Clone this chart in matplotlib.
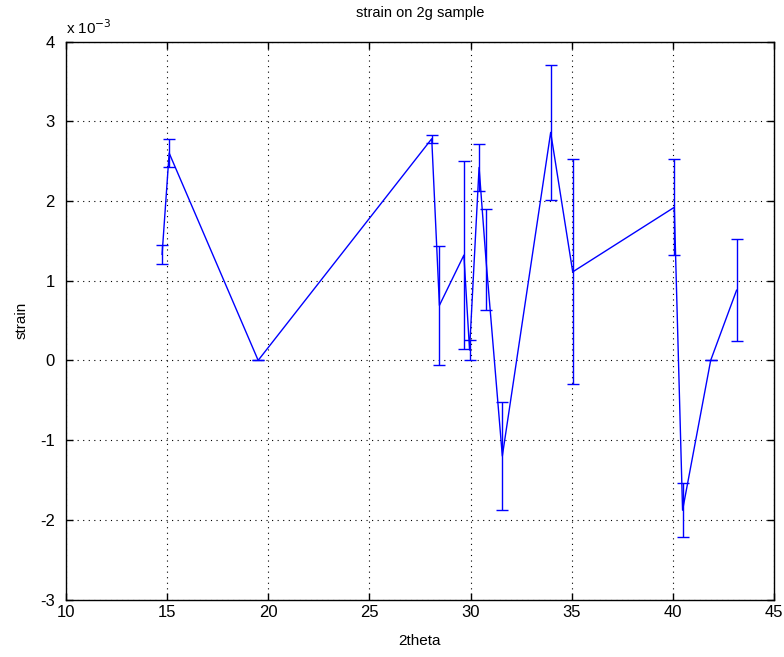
import numpy as np
import matplotlib
matplotlib.use("Agg")
import matplotlib.pyplot as plt
from matplotlib.ticker import FuncFormatter

plt.rcParams['font.family'] = ['Liberation Sans', 'DejaVu Sans']

# data (strain in units of 1e-3)
two_theta = [14.75, 15.1, 19.5, 28.08, 28.46, 29.67, 29.95, 30.42, 30.76,
             31.57, 33.96, 35.05, 40.07, 40.48, 41.87, 43.15]
strain_e3 = [1.33, 2.6, 0.0, 2.78, 0.69, 1.32, 0.13, 2.42, 1.27,
             -1.2, 2.86, 1.11, 1.92, -1.88, 0.0, 0.88]
err_e3 = [0.12, 0.18, 0.0, 0.05, 0.745, 1.18, 0.12, 0.3, 0.635,
          0.68, 0.85, 1.41, 0.6, 0.34, 0.0, 0.64]

strain = np.array(strain_e3) * 1e-3
err = np.array(err_e3) * 1e-3

fig = plt.figure(figsize=(7.84, 6.57), dpi=100)
ax = fig.add_axes([66 / 784, 57.5 / 657, 708 / 784, 558 / 657])

ax.errorbar(two_theta, strain, yerr=err, color='#0000ff', lw=1.0,
            elinewidth=1.0, capsize=4.3, capthick=1.0)

ax.set_xlim(10, 45)
ax.set_ylim(-3e-3, 4e-3)
ax.set_xticks(np.arange(10, 46, 5))
ax.set_yticks(np.arange(-3e-3, 4.5e-3, 1e-3))
ax.yaxis.set_major_formatter(FuncFormatter(lambda v, p: f"{v * 1e3:.0f}"))

ax.grid(True, linestyle=(0, (1, 4)), color='black', linewidth=0.8)
ax.tick_params(direction='in', top=True, right=True, length=5,
               labelsize=12, width=1)
ax.tick_params(axis='y', pad=8)
ax.tick_params(axis='x', pad=4)
for s in ax.spines.values():
    s.set_linewidth(1)

ax.text(0.0, 1.008, r'x 10$^{-3}$', transform=ax.transAxes,
        fontsize=11, ha='left', va='bottom')
ax.set_title('strain on 2g sample', fontsize=10.5, pad=18)
ax.set_xlabel('2theta', fontsize=11, labelpad=10)
ax.set_ylabel('strain', fontsize=11, labelpad=8)

fig.savefig('out.png', dpi=100)
